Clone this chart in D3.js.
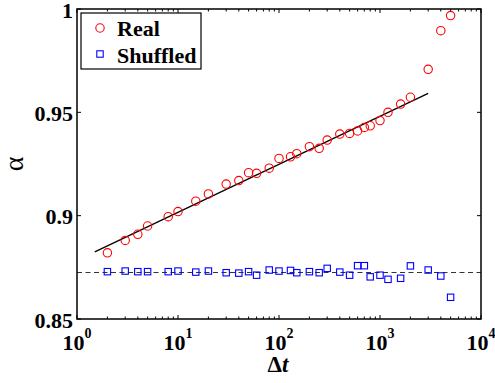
<!DOCTYPE html>
<meta charset="utf-8">

<!-- Load d3.js -->
<script src="https://d3js.org/d3.v7.min.js"></script>

<div id="chart"></div>

<style>
body {
    margin: 0;
    background: white;
}
.real {
    fill: none;
    stroke: red;
    stroke-width: 1.1;
}
.shuffled {
    fill: none;
    stroke: blue;
    stroke-width: 1.1;
}
</style>
<script>
// data
var dt = [2, 3, 4, 5, 8, 10, 15, 20, 30, 40, 50, 60, 80, 100, 130, 150, 200, 250, 300,
          400, 500, 600, 700, 800, 1000, 1200, 1600, 2000, 3000, 4000, 5000];
var realAlpha = [0.882, 0.888, 0.891, 0.895, 0.8995, 0.902, 0.907, 0.9105, 0.9153, 0.917, 0.9208,
                 0.9205, 0.923, 0.9277, 0.9285, 0.930, 0.9334, 0.9326, 0.9366, 0.9395, 0.9398,
                 0.941, 0.9427, 0.9435, 0.946, 0.950, 0.954, 0.9573, 0.9708, 0.9895, 0.9968];
var shuffledAlpha = [0.8729, 0.8732, 0.8729, 0.8729, 0.8729, 0.8732, 0.8727, 0.8732, 0.8724, 0.8722, 0.8729,
                     0.8712, 0.8737, 0.8732, 0.8735, 0.8724, 0.8729, 0.8724, 0.8745, 0.8727, 0.8712,
                     0.8758, 0.8758, 0.8704, 0.8712, 0.8692, 0.8697, 0.8757, 0.8737, 0.8708, 0.8605];
var fitT = [1.5, 3000];
var fitAlpha = [0.8825, 0.9592];
var shuffledMean = 0.8725;
var xTicks = [1, 10, 100, 1000, 10000];
var yTicks = [0.85, 0.9, 0.95, 1];
var legendLabels = ["Real", "Shuffled"];

var FONT = "'Liberation Serif', 'Times New Roman', serif";

var margin = {top: 9, right: 14, bottom: 64, left: 77},
    W = 495, H = 383,
    width = W - margin.left - margin.right,
    height = H - margin.top - margin.bottom;

var svg = d3.select("#chart")
    .append("svg")
    .attr("width", W)
    .attr("height", H)
  .append("g")
    .attr("transform", "translate(" + margin.left + "," + margin.top + ")");

// serif bold text, set inline on each element
function serif(sel, size, weight) {
    sel.style("font-family", FONT)
       .style("font-weight", weight || "bold")
       .style("font-size", size + "px");
}

var x = d3.scaleLog().domain([1, 1e4]).range([0, width]);
var y = d3.scaleLinear().domain([0.85, 1]).range([height, 0]);

// minor ticks for the log axis
var minorTicks = [];
xTicks.slice(0, -1).forEach(function(d) {
    for (var k = 2; k < 10; k++) minorTicks.push(d * k);
});

// ticks pointing inward, all four sides
function xAxisTicks(g, dir) {
    g.selectAll(".maj").data(xTicks).enter().append("line")
        .attr("x1", d => x(d)).attr("x2", d => x(d))
        .attr("y1", 0).attr("y2", dir * 4)
        .attr("stroke", "black");
    g.selectAll(".min").data(minorTicks).enter().append("line")
        .attr("x1", d => x(d)).attr("x2", d => x(d))
        .attr("y1", 0).attr("y2", dir * 2.5)
        .attr("stroke", "black");
}
svg.append("g").attr("transform", "translate(0," + height + ")").call(xAxisTicks, -1);
svg.append("g").call(xAxisTicks, 1);

function yAxisTicks(g, dir) {
    g.selectAll("line").data(yTicks).enter().append("line")
        .attr("y1", d => y(d)).attr("y2", d => y(d))
        .attr("x1", 0).attr("x2", dir * 4)
        .attr("stroke", "black");
}
svg.append("g").call(yAxisTicks, 1);
svg.append("g").attr("transform", "translate(" + width + ",0)").call(yAxisTicks, -1);

// tick labels
svg.selectAll(".ylab").data(yTicks).enter().append("text")
    .attr("x", -4)
    .attr("y", d => y(d) + 8.5)
    .attr("text-anchor", "end")
    .call(serif, 22)
    .text(d => d3.format("")(d));

var xl = svg.selectAll(".xlab").data(xTicks).enter().append("text")
    .attr("x", d => x(d))
    .attr("y", height + 31)
    .attr("text-anchor", "middle")
    .call(serif, 22);
xl.append("tspan").text("10");
xl.append("tspan")
    .attr("dy", -12)
    .style("font-size", "14px")
    .text(d => Math.round(Math.log10(d)));

// axis titles
var xt = svg.append("text")
    .attr("x", width / 2 - 1)
    .attr("y", height + 53)
    .attr("text-anchor", "middle")
    .call(serif, 23);
xt.append("tspan").text("Δ");
xt.append("tspan").style("font-style", "italic").text("t");

svg.append("text")
    .attr("transform", "translate(" + (-61) + "," + (height / 2) + ") rotate(-90)")
    .attr("text-anchor", "middle")
    .attr("dy", "0.25em")
    .call(serif, 28, "normal")
    .text("α");

// reference lines
svg.append("line")
    .attr("x1", 0).attr("x2", width)
    .attr("y1", y(shuffledMean)).attr("y2", y(shuffledMean))
    .attr("stroke", "#333")
    .attr("stroke-width", 1.1)
    .attr("stroke-dasharray", "5,3.5");

svg.append("line")
    .attr("x1", x(fitT[0])).attr("x2", x(fitT[1]))
    .attr("y1", y(fitAlpha[0])).attr("y2", y(fitAlpha[1]))
    .attr("stroke", "black")
    .attr("stroke-width", 1.3);

// points
svg.selectAll(".real").data(dt).enter().append("circle")
    .attr("class", "real")
    .attr("cx", d => x(d))
    .attr("cy", (d, i) => y(realAlpha[i]))
    .attr("r", 4.2);

svg.selectAll(".shuffled").data(dt).enter().append("rect")
    .attr("class", "shuffled")
    .attr("x", d => x(d) - 3.2)
    .attr("y", (d, i) => y(shuffledAlpha[i]) - 3.2)
    .attr("width", 6.4)
    .attr("height", 6.4);

// frame
svg.append("rect")
    .attr("width", width).attr("height", height)
    .attr("fill", "none")
    .attr("stroke", "black")
    .attr("stroke-width", 1.5);

// legend
var lg = svg.append("g").attr("transform", "translate(4,4)");
lg.append("rect")
    .attr("width", 120).attr("height", 56)
    .attr("fill", "white")
    .attr("stroke", "black")
    .attr("stroke-width", 1.2);
lg.append("circle").attr("class", "real").attr("cx", 19).attr("cy", 15).attr("r", 4.2);
lg.append("rect").attr("class", "shuffled").attr("x", 15.8).attr("y", 37.8).attr("width", 6.4).attr("height", 6.4);
lg.selectAll(".lt").data(legendLabels).enter().append("text")
    .attr("x", 36)
    .attr("y", (d, i) => 22.7 + i * 27)
    .call(serif, 22)
    .text(d => d);
</script>
